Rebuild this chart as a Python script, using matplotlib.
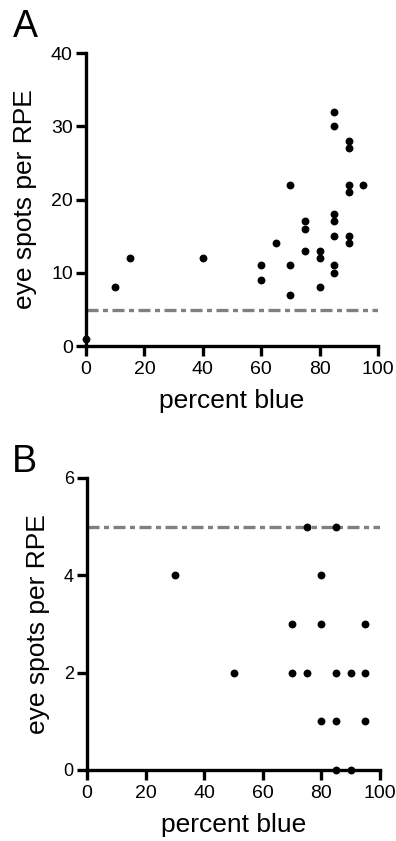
import matplotlib
matplotlib.use("Agg")
import matplotlib.pyplot as plt

plt.rcParams['font.family'] = ['Liberation Sans', 'DejaVu Sans']

# Panel A data
a_x = [0, 10, 15, 40, 60, 60, 65, 70, 70, 70, 75, 75, 75, 80, 80, 80,
       85, 85, 85, 85, 85, 85, 85, 90, 90, 90, 90, 90, 90, 95]
a_y = [1, 8, 12, 12, 11, 9, 14, 22, 11, 7, 17, 16, 13, 13, 12, 8,
       32, 30, 18, 17, 15, 11, 10, 28, 27, 22, 21, 15, 14, 22]
a_threshold = 4.9

# Panel B data
b_x = [75, 85, 30, 80, 70, 80, 95, 50, 70, 75, 85, 90, 95, 80, 85, 95, 85, 90]
b_y = [5, 5, 4, 4, 3, 3, 3, 2, 2, 2, 2, 2, 2, 1, 1, 1, 0, 0]
b_threshold = 5

x_ticks = [0, 20, 40, 60, 80, 100]
a_yticks = [0, 10, 20, 30, 40]
b_yticks = [0, 2, 4, 6]

W, H = 396, 841
fig = plt.figure(figsize=(W / 100, H / 100), dpi=100)

def make_ax(left_px, right_px, bottom_px, top_px):
    return fig.add_axes([left_px / W, 1 - bottom_px / H,
                         (right_px - left_px) / W, (bottom_px - top_px) / H])

axA = make_ax(86, 378, 346, 53)
axB = make_ax(87, 380, 770, 478)

dash = (0, (3.6, 1.35, 1.5, 1.35))

for ax, xs, ys, thr, yt, ymax, ytfs in [
        (axA, a_x, a_y, a_threshold, a_yticks, 40, 14),
        (axB, b_x, b_y, b_threshold, b_yticks, 6, 13)]:
    ax.axhline(thr, color='#808080', lw=2.4, linestyle=dash, zorder=1)
    ax.scatter(xs, ys, s=32, color='black', zorder=4, clip_on=False,
               linewidths=0)
    ax.set_xlim(0, 100)
    ax.set_ylim(0, ymax)
    ax.set_xticks(x_ticks)
    ax.set_yticks(yt)
    for s in ['top', 'right']:
        ax.spines[s].set_visible(False)
    for s in ['left', 'bottom']:
        ax.spines[s].set_linewidth(2.4)
    ax.tick_params(axis='both', width=2.4, length=7.5, direction='out')
    ax.tick_params(axis='x', labelsize=14, pad=3.5)
    ax.tick_params(axis='y', labelsize=ytfs, pad=2)
    ax.set_xlabel('percent blue', fontsize=19, labelpad=8)
    ax.set_ylabel('eye spots per RPE', fontsize=19, labelpad=10)
    ax.patch.set_visible(False)

fig.text(13 / W, 1 - 37 / H, 'A', fontsize=27, ha='left', va='baseline')
fig.text(12 / W, 1 - 472 / H, 'B', fontsize=27, ha='left', va='baseline')

fig.savefig('out.png', dpi=100)
